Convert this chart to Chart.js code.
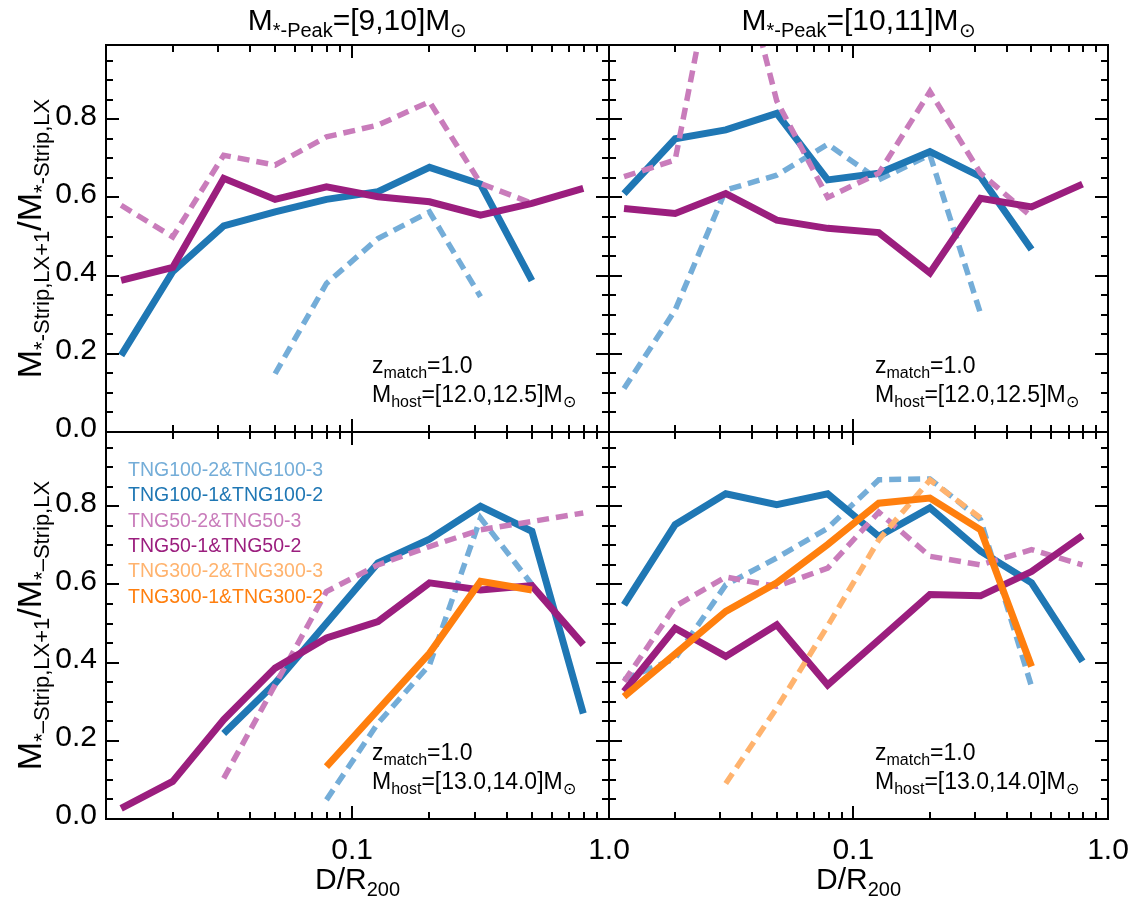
<!DOCTYPE html>
<html>
<head>
<meta charset="utf-8">
<script src="https://cdn.jsdelivr.net/npm/chart.js@4.4.1/dist/chart.umd.min.js"></script>
<style>
  body { margin: 0; background: #fff; }
  #wrap { position: relative; width: 1144px; height: 906px; }
  #wrap canvas { position: absolute; left: 0; top: 0; }
</style>
</head>
<body>
<div id="wrap">
  <canvas id="panelUL" width="1144" height="906"></canvas>
  <canvas id="panelUR" width="1144" height="906"></canvas>
  <canvas id="panelLL" width="1144" height="906"></canvas>
  <canvas id="panelLR" width="1144" height="906"></canvas>
</div>
<script>
// D/R200 bin centres
const dBins = [0.0126, 0.0200, 0.0316, 0.0501, 0.0794, 0.126, 0.200, 0.316, 0.501, 0.794];

const seriesNames = ['TNG100-2&TNG100-3', 'TNG100-1&TNG100-2', 'TNG50-2&TNG50-3',
                     'TNG50-1&TNG50-2', 'TNG300-2&TNG300-3', 'TNG300-1&TNG300-2'];

// M*-Peak = [9,10], Mhost = [12.0,12.5]
const ul_tng100_23 = [null, null, null, 0.149, 0.380, 0.495, 0.563, 0.346, null, null];
const ul_tng100_12 = [0.196, 0.410, 0.527, 0.563, 0.595, 0.615, 0.677, 0.634, 0.387, null];
const ul_tng50_23  = [0.580, 0.499, 0.708, 0.683, 0.755, 0.785, 0.845, 0.636, 0.585, null];
const ul_tng50_12  = [0.388, 0.421, 0.649, 0.595, 0.627, 0.602, 0.589, 0.555, 0.585, 0.623];

// M*-Peak = [10,11], Mhost = [12.0,12.5]
const ur_tng100_23 = [0.111, 0.312, 0.619, 0.657, 0.736, 0.645, 0.709, 0.303, null, null];
const ur_tng100_12 = [0.610, 0.750, 0.773, 0.815, 0.645, 0.662, 0.717, 0.653, 0.467, null];
const ur_tng50_23  = [0.653, 0.696, 1.357, 0.847, 0.600, 0.662, 0.871, 0.662, 0.551, null];
const ur_tng50_12  = [0.572, 0.559, 0.610, 0.542, 0.521, 0.510, 0.407, 0.598, 0.576, 0.634];

// M*-Peak = [9,10], Mhost = [13.0,14.0]
const ll_tng100_23 = [null, null, null, null, 0.049, 0.245, 0.394, 0.770, 0.600, null];
const ll_tng100_12 = [null, null, 0.219, 0.347, 0.501, 0.655, 0.716, 0.800, 0.736, 0.270];
const ll_tng50_23  = [null, null, 0.104, 0.343, 0.582, 0.650, 0.697, 0.740, 0.761, 0.783];
const ll_tng50_12  = [0.027, 0.096, 0.254, 0.386, 0.463, 0.505, 0.604, 0.586, 0.597, 0.446];
const ll_tng300_12 = [null, null, null, null, 0.134, 0.279, 0.424, 0.608, 0.586, null];

// M*-Peak = [10,11], Mhost = [13.0,14.0]
const lr_tng100_23 = [0.357, 0.411, 0.599, 0.668, 0.744, 0.868, 0.870, 0.766, 0.339, null];
const lr_tng100_12 = [0.548, 0.753, 0.832, 0.804, 0.832, 0.723, 0.796, 0.685, 0.604, 0.403];
const lr_tng50_23  = [0.352, 0.544, 0.619, 0.595, 0.642, 0.785, 0.672, 0.650, 0.689, 0.650];
const lr_tng50_12  = [0.326, 0.488, 0.416, 0.497, 0.343, 0.458, 0.574, 0.571, 0.633, 0.725];
const lr_tng300_23 = [null, null, 0.091, 0.284, 0.494, 0.714, 0.867, 0.770, null, null];
const lr_tng300_12 = [0.313, 0.422, 0.531, 0.604, 0.702, 0.808, 0.821, 0.740, 0.390, null];

const yTicks = [0.0, 0.2, 0.4, 0.6, 0.8];
const xTickLabels = [0.1, 1.0];

const FONT = '"Liberation Sans", Arial, Helvetica, sans-serif';
const colors = ['#74add8', '#1f77b4', '#c97cbb', '#9b1e7e', '#ffb36e', '#ff7f0e'];
const dashed = [true, false, true, false, true, false];

// draws text made of [string, size, dy] pieces
function richText(ctx, parts, x, y, align) {
  let w = 0;
  for (const p of parts) { ctx.font = p[1] + 'px ' + FONT; w += ctx.measureText(p[0]).width; }
  let cx = align === 'center' ? x - w / 2 : (align === 'right' ? x - w : x);
  ctx.textAlign = 'left';
  ctx.textBaseline = 'alphabetic';
  for (const p of parts) {
    ctx.font = p[1] + 'px ' + FONT;
    ctx.fillText(p[0], cx, y + (p[2] || 0));
    cx += ctx.measureText(p[0]).width;
  }
}

function makeDatasets(list) {
  // list: [seriesIndex, values]
  return list.map(([k, vals]) => ({
    label: seriesNames[k],
    data: dBins.map((d, i) => ({ x: d, y: vals[i] })),
    borderColor: colors[k],
    borderWidth: dashed[k] ? 5.5 : 7,
    borderDash: dashed[k] ? [12, 7] : [],
    pointRadius: 0,
    tension: 0,
    spanGaps: false,
    clip: 0,
    order: 6 - k
  }));
}

// box and inward tick marks on all four sides
const frameTicks = {
  id: 'frameTicks',
  afterDraw(chart) {
    const { ctx, chartArea: a, scales: { x, y } } = chart;
    ctx.save();
    ctx.setLineDash([]);
    ctx.fillStyle = '#000';
    const tw = 2;
    for (let i = 0; i * 0.05 <= y.max; i++) {
      const py = Math.round(y.getPixelForValue(i * 0.05));
      const len = i % 4 === 0 ? 13 : 7;
      ctx.fillRect(a.left, py - tw / 2, len, tw);
      ctx.fillRect(a.right - len, py - tw / 2, len, tw);
    }
    for (const dec of [0.01, 0.1]) {
      for (let m = 1; m <= 10; m++) {
        const v = m * dec;
        if (v < x.min || v > x.max) continue;
        const px = Math.round(x.getPixelForValue(v));
        const len = (m === 1 || m === 10) ? 13 : 7;
        ctx.fillRect(px - tw / 2, a.bottom - len, tw, len);
        ctx.fillRect(px - tw / 2, a.top, tw, len);
      }
    }
    ctx.strokeStyle = '#000';
    ctx.lineWidth = 2;
    ctx.strokeRect(a.left, a.top, a.right - a.left, a.bottom - a.top);
    ctx.restore();
  }
};

// tick labels, titles, notes and legend text
const panelText = {
  id: 'panelText',
  afterDatasetsDraw(chart, args, opts) {
    const { ctx, chartArea: a, scales: { x, y } } = chart;
    ctx.save();
    ctx.fillStyle = '#000';
    const big = 30, sub = 20;
    if (opts.yLabels) {
      ctx.font = big + 'px ' + FONT;
      ctx.textAlign = 'right';
      ctx.textBaseline = 'middle';
      yTicks.forEach(v => ctx.fillText(v.toFixed(1), a.left - 9, y.getPixelForValue(v) - 3));
      // rotated y title
      const dash = opts.minus ? '\u2013' : '-';
      ctx.save();
      ctx.translate(41, (a.top + a.bottom) / 2);
      ctx.rotate(-Math.PI / 2);
      richText(ctx, [['M', 34], ['*' + dash + 'Strip,LX+1', 22, 8], ['/M', 34], ['*' + dash + 'Strip,LX', 22, 8]], 0, 0, 'center');
      ctx.restore();
    }
    if (opts.xLabels) {
      ctx.font = big + 'px ' + FONT;
      ctx.textAlign = 'center';
      ctx.textBaseline = 'alphabetic';
      xTickLabels.forEach(v => ctx.fillText(v.toFixed(1), x.getPixelForValue(v), a.bottom + 40));
      richText(ctx, [['D/R', big], ['200', sub, 7]], (a.left + a.right) / 2, a.bottom + 70, 'center');
    }
    if (opts.title) {
      richText(ctx, [['M', big], ['*-Peak', sub, 7], ['=' + opts.title + 'M', big], ['\u2299', sub, 7]],
               (a.left + a.right) / 2, a.top - 15, 'center');
    }
    // z_match / M_host note
    richText(ctx, [['z', 23], ['match', 16, 5], ['=1.0', 23]], a.left + 266, a.bottom - 59, 'left');
    richText(ctx, [['M', 23], ['host', 16, 5], ['=' + opts.host + 'M', 23], ['\u2299', 16, 5]], a.left + 266, a.bottom - 30, 'left');

    if (opts.legend) {
      ctx.font = '19.5px ' + FONT;
      ctx.textAlign = 'left';
      ctx.textBaseline = 'alphabetic';
      seriesNames.forEach((name, k) => {
        ctx.fillStyle = colors[k];
        ctx.fillText(name, 128, 476 + k * 25.3);
      });
    }
    ctx.restore();
  }
};

function makePanel(id, rect, datasets, opts) {
  new Chart(document.getElementById(id), {
    type: 'line',
    data: { datasets: datasets },
    options: {
      responsive: false,
      animation: false,
      events: [],
      layout: { padding: { left: rect[0], top: rect[1], right: 1144 - rect[2], bottom: 906 - rect[3] } },
      scales: {
        x: { type: 'logarithmic', min: 0.011, max: 1.0, display: false },
        y: { type: 'linear', min: 0, max: 0.99, display: false }
      },
      plugins: {
        legend: { display: false },
        tooltip: { enabled: false },
        panelText: opts
      }
    },
    plugins: [panelText, frameTicks]
  });
}

const leftCol = [106, 609], rightCol = [609, 1108];
const topRow = [45, 432], bottomRow = [432, 819];

makePanel('panelUL', [leftCol[0], topRow[0], leftCol[1], topRow[1]],
  makeDatasets([[0, ul_tng100_23], [1, ul_tng100_12], [2, ul_tng50_23], [3, ul_tng50_12]]),
  { yLabels: true, title: '[9,10]', host: '[12.0,12.5]' });

makePanel('panelUR', [rightCol[0], topRow[0], rightCol[1], topRow[1]],
  makeDatasets([[0, ur_tng100_23], [1, ur_tng100_12], [2, ur_tng50_23], [3, ur_tng50_12]]),
  { title: '[10,11]', host: '[12.0,12.5]' });

makePanel('panelLL', [leftCol[0], bottomRow[0], leftCol[1], bottomRow[1]],
  makeDatasets([[0, ll_tng100_23], [1, ll_tng100_12], [2, ll_tng50_23], [3, ll_tng50_12], [5, ll_tng300_12]]),
  { yLabels: true, minus: true, xLabels: true, legend: true, host: '[13.0,14.0]' });

makePanel('panelLR', [rightCol[0], bottomRow[0], rightCol[1], bottomRow[1]],
  makeDatasets([[0, lr_tng100_23], [1, lr_tng100_12], [2, lr_tng50_23], [3, lr_tng50_12], [4, lr_tng300_23], [5, lr_tng300_12]]),
  { xLabels: true, host: '[13.0,14.0]' });
</script>
</body>
</html>
